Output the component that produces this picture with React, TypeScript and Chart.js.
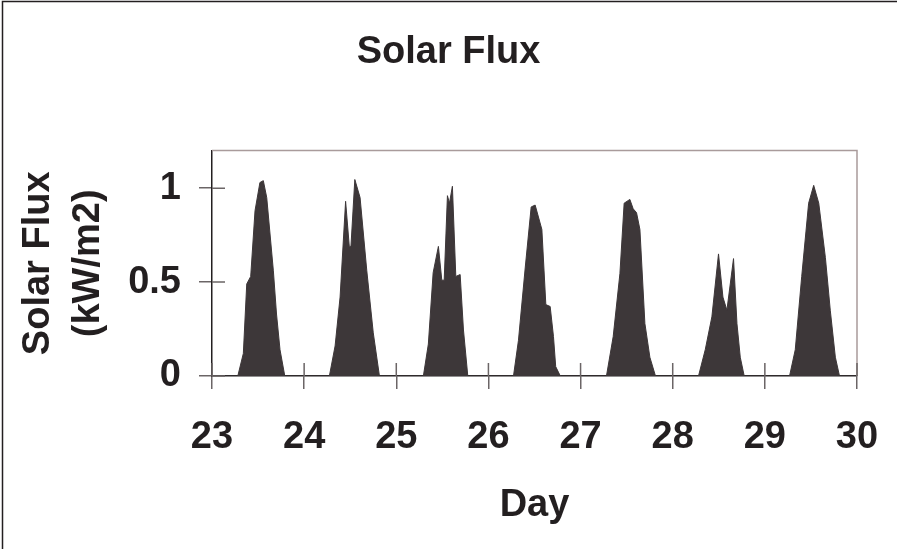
import { useEffect, useRef } from 'react';
import { Chart, registerables } from 'chart.js';

Chart.register(...registerables);

// Time in days (day of month + fraction of day)
const timeDays: number[] = [
  23.0,
  // day 23
  23.28, 23.34, 23.377, 23.42, 23.467, 23.52, 23.557, 23.594, 23.666, 23.70, 23.738, 23.79,
  // day 24
  24.274, 24.336, 24.39, 24.45, 24.49, 24.508, 24.55, 24.607, 24.68, 24.75, 24.817,
  // day 25
  25.294, 25.348, 25.40, 25.457, 25.494, 25.52, 25.555, 25.577, 25.609, 25.646, 25.693, 25.729, 25.776,
  // day 26
  26.272, 26.326, 26.40, 26.464, 26.507, 26.58, 26.623, 26.67, 26.706, 26.73, 26.78,
  // day 27
  27.281, 27.354, 27.427, 27.473, 27.535, 27.571, 27.607, 27.644, 27.698, 27.752, 27.813,
  // day 28
  28.28, 28.353, 28.425, 28.497, 28.545, 28.588, 28.66, 28.697, 28.733, 28.776,
  // day 29
  29.268, 29.33, 29.40, 29.475, 29.53, 29.585, 29.657, 29.71, 29.765, 29.81,
  30.0,
];

// Solar flux in kW/m2
const fluxKW: number[] = [
  0,
  // day 23
  0, 0.12, 0.49, 0.53, 0.88, 1.03, 1.04, 0.95, 0.56, 0.33, 0.14, 0,
  // day 24
  0, 0.16, 0.42, 0.93, 0.69, 0.69, 1.046, 0.95, 0.56, 0.23, 0,
  // day 25
  0, 0.17, 0.55, 0.69, 0.51, 0.51, 0.96, 0.92, 1.01, 0.53, 0.54, 0.245, 0,
  // day 26
  0, 0.19, 0.58, 0.90, 0.91, 0.78, 0.38, 0.37, 0.21, 0.05, 0,
  // day 27
  0, 0.21, 0.545, 0.92, 0.94, 0.89, 0.87, 0.78, 0.28, 0.10, 0,
  // day 28
  0, 0.14, 0.315, 0.65, 0.42, 0.35, 0.625, 0.28, 0.10, 0,
  // day 29
  0, 0.14, 0.53, 0.92, 1.015, 0.92, 0.63, 0.35, 0.10, 0,
  0,
];

const yTickLabels: Record<string, string> = { '0': '0', '0.5': '0.5', '1': '1' };

const chartTitle = 'Solar Flux';
const yTitleLines = ['Solar Flux', '(kW/m2)'];
const xTitle = 'Day';

const FONT = "'Liberation Sans', Arial, Helvetica, sans-serif";
const INK = '#231f20';

const decorPlugin = {
  id: 'decor',
  beforeDraw(chart: any) {
    const { ctx, width, height } = chart;
    ctx.save();
    ctx.fillStyle = '#ffffff';
    ctx.fillRect(0, 0, width, height);
    ctx.strokeStyle = INK;
    ctx.lineWidth = 1.5;
    ctx.beginPath();
    ctx.moveTo(2.5, height);
    ctx.lineTo(2.5, 1.5);
    ctx.lineTo(width, 1.5);
    ctx.stroke();
    ctx.restore();
  },
  afterDraw(chart: any) {
    const { ctx, chartArea, scales } = chart;
    const { left, right, top, bottom } = chartArea;
    ctx.save();
    ctx.strokeStyle = '#a99b9b';
    ctx.lineWidth = 1.5;
    ctx.beginPath();
    ctx.moveTo(left, top);
    ctx.lineTo(right, top);
    ctx.lineTo(right, bottom);
    ctx.stroke();
    ctx.strokeStyle = '#6b6566';
    ctx.lineWidth = 1.5;
    ctx.beginPath();
    scales.x.ticks.forEach((t: any) => {
      const px = scales.x.getPixelForValue(t.value);
      ctx.moveTo(px, bottom);
      ctx.lineTo(px, bottom - 13);
    });
    scales.y.ticks.forEach((t: any) => {
      const py = scales.y.getPixelForValue(t.value);
      ctx.moveTo(left, py);
      ctx.lineTo(left + 13, py);
    });
    ctx.stroke();
    ctx.restore();
  },
};

export default function App() {
  const canvasRef = useRef<HTMLCanvasElement | null>(null);

  useEffect(() => {
    document.body.style.margin = '0';
    const canvas = canvasRef.current;
    if (!canvas) return;
    const points = timeDays.map((t, i) => ({ x: t, y: fluxKW[i] }));
    const chart = new Chart(canvas, {
      type: 'line',
      data: {
        datasets: [
          {
            data: points,
            fill: 'origin',
            backgroundColor: '#3d3739',
            borderColor: '#3d3739',
            borderWidth: 1,
            pointRadius: 0,
            tension: 0,
          },
        ],
      },
      options: {
        animation: false,
        responsive: false,
        layout: { padding: { left: 0, right: 0, top: 0, bottom: 0 } },
        plugins: {
          legend: { display: false },
          tooltip: { enabled: false },
          title: {
            display: true,
            text: chartTitle,
            color: INK,
            font: { family: FONT, size: 38, weight: 'bold', lineHeight: 1.2 },
            padding: { top: 30, bottom: 75 },
          },
        },
        scales: {
          x: {
            type: 'linear',
            min: 23,
            max: 30,
            ticks: {
              stepSize: 1,
              color: INK,
              padding: 0,
              font: { family: FONT, size: 38, weight: 'bold', lineHeight: 2.55 },
              maxRotation: 0,
            },
            grid: {
              drawOnChartArea: false,
              drawTicks: true,
              tickLength: 13,
              color: '#6b6566',
              lineWidth: 1.5,
            },
            border: { display: true, color: INK, width: 1.5 },
            title: {
              display: true,
              text: xTitle,
              color: INK,
              font: { family: FONT, size: 38, weight: 'bold', lineHeight: 1.2 },
              padding: { top: 0, bottom: 21 },
            },
            afterFit(scale: any) {
              scale.height = 173;
            },
          },
          y: {
            type: 'linear',
            min: 0,
            max: 1.2,
            ticks: {
              stepSize: 0.5,
              includeBounds: false,
              color: INK,
              padding: 18,
              font: { family: FONT, size: 38, weight: 'bold', lineHeight: 1.2 },
              callback: (v: any) => yTickLabels[String(v)] ?? String(v),
            },
            grid: {
              drawOnChartArea: false,
              drawTicks: true,
              tickLength: 13,
              color: '#6b6566',
              lineWidth: 1.5,
            },
            border: { display: true, color: INK, width: 1.5 },
            title: {
              display: true,
              text: yTitleLines,
              color: INK,
              font: { family: FONT, size: 38, weight: 'bold', lineHeight: 1.3 },
              padding: { top: 14, bottom: 0 },
            },
            afterFit(scale: any) {
              scale.width = 212;
            },
          },
          yRight: {
            type: 'linear',
            position: 'right',
            display: true,
            min: 0,
            max: 1.2,
            ticks: { display: false },
            grid: { display: false, drawTicks: false },
            border: { display: false },
            afterFit(scale: any) {
              scale.width = 40;
            },
          },
        },
      },
      plugins: [decorPlugin],
    });
    return () => chart.destroy();
  }, []);

  return (
    <div style={{ width: 897, height: 549, position: 'relative', background: '#fff' }}>
      <canvas ref={canvasRef} width={897} height={549} style={{ display: 'block' }} />
    </div>
  );
}
